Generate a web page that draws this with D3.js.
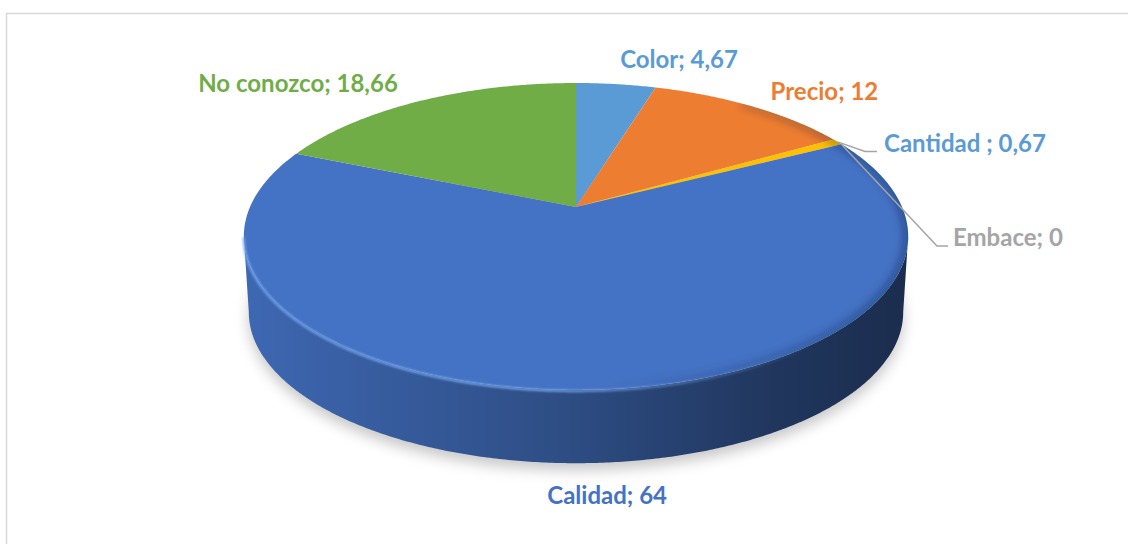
<!DOCTYPE html>
<html>
<head>
<meta charset="utf-8">
<script src="https://cdn.jsdelivr.net/npm/d3@7/dist/d3.min.js"></script>
<style>
  html, body { margin: 0; padding: 0; background: #ffffff; }
  svg { display: block; }
</style>
</head>
<body>
<svg id="chart" width="1128" height="544"></svg>
<script>
// ---- data ----
const categories  = ["Color", "Precio", "Cantidad ", "Embace", "Calidad", "No conozco"];
const values      = [4.67, 12, 0.67, 0, 64, 18.66];
const sliceColors = ["#5B9BD5", "#ED7D31", "#FFC000", "#A5A5A5", "#4472C4", "#70AD47"];
const labelColors = ["#5B9BD5", "#ED7D31", "#5B9BD5", "#A5A5A5", "#4472C4", "#70AD47"];

// ---- layout ----
const W = 1128, H = 544;
const pie3d = { cx: 576, cy: 207, rx: 326, ry: 147.8, k: 0.192, depth: 76, baseScale: 0.985 };
// label placement relative to each slice's outer anchor point
const labelOffsets = [[63, -16], [72.4, -6.3], [46.5, 10], [111.6, 101.8], [14.7, 41.3], [-122.5, -8.9]];
const labelAnchors = ["middle", "middle", "start", "start", "middle", "middle"];
const leaderBends  = [null, null, [[27.5, 9.6], [39.5, 9.6]], [[95.6, 101.8], [106.6, 101.8]], null, null];
const labelFont = "Lato, 'Open Sans', sans-serif";
const labelSize = 24;

const svg = d3.select("#chart");
const defs = svg.append("defs");

// chart frame
svg.append("rect")
  .attr("x", 6.5).attr("y", 13.5).attr("width", W + 20).attr("height", H + 20)
  .attr("fill", "none").attr("stroke", "#d9d9d9").attr("stroke-width", 1.5);

// perspective projection of a point on the disc: angle clockwise from 12 o'clock,
// r = fraction of radius, z = 0 for the top face, 1 for the base
function proj(a, r = 1, z = 0) {
  const u = r * Math.sin(a), v = r * Math.cos(a);
  const d = 1 + pie3d.k * v;
  const s = z ? pie3d.baseScale : 1;
  return [pie3d.cx + s * pie3d.rx * u / d, pie3d.cy + z * pie3d.depth - s * pie3d.ry * v / d];
}
function arcPts(a0, a1, z) {
  const n = Math.max(2, Math.ceil(Math.abs(a1 - a0) / 0.008));
  return d3.range(n + 1).map(i => proj(a0 + (a1 - a0) * i / n, 1, z));
}
const line = d3.line();

const arcs = d3.pie().sort(null).value(d => d).startAngle(0).endAngle(2 * Math.PI)(values);

// silhouette tangents of the cylinder wall
const aRight = Math.acos(-pie3d.k);
const aLeft = 2 * Math.PI - aRight;

// filters
const blurShadow = defs.append("filter").attr("id", "shadowBlur")
  .attr("x", "-20%").attr("y", "-20%").attr("width", "140%").attr("height", "160%");
blurShadow.append("feGaussianBlur").attr("stdDeviation", 7);
const blurSoft = defs.append("filter").attr("id", "softBlur")
  .attr("x", "-10%").attr("y", "-10%").attr("width", "120%").attr("height", "120%");
blurSoft.append("feGaussianBlur").attr("stdDeviation", 1.2);
const blurEdge = defs.append("filter").attr("id", "edgeBlur")
  .attr("x", "-10%").attr("y", "-10%").attr("width", "120%").attr("height", "120%");
blurEdge.append("feGaussianBlur").attr("stdDeviation", 4);

// ground shadow under the base
const base = arcPts(0, 2 * Math.PI, 1);
svg.append("path")
  .attr("d", line(base) + "Z")
  .attr("transform", "translate(0,7)")
  .attr("fill", "#000").attr("fill-opacity", 0.22)
  .attr("filter", "url(#shadowBlur)");

const xLeft = proj(aLeft)[0], xRight = proj(aRight)[0];

// side walls (only the part facing the viewer)
arcs.forEach((a, i) => {
  const a0 = Math.max(a.startAngle, aRight), a1 = Math.min(a.endAngle, aLeft);
  if (a1 <= a0) return;
  const c = d3.color(sliceColors[i]);
  const gid = "side" + i;
  const g = defs.append("linearGradient").attr("id", gid)
    .attr("gradientUnits", "userSpaceOnUse")
    .attr("x1", xLeft).attr("x2", xRight).attr("y1", 0).attr("y2", 0);
  [[0, 0.25], [0.12, 0.45], [0.5, 1.15], [0.8, 2.1], [1, 2.6]].forEach(([o, k]) =>
    g.append("stop").attr("offset", o).attr("stop-color", c.darker(k).formatHex()));
  const pts = arcPts(a0, a1, 0).concat(arcPts(a1, a0, 1));
  svg.append("path").attr("d", line(pts) + "Z").attr("fill", `url(#${gid})`);
});

// top face slices
const topG = svg.append("g");
arcs.forEach((a, i) => {
  if (a.endAngle - a.startAngle <= 0) return;
  const pts = [proj(0, 0)].concat(arcPts(a.startAngle, a.endAngle, 0));
  topG.append("path").attr("d", line(pts) + "Z").attr("fill", sliceColors[i]);
});

// bevel: dark shading on the right rim, light highlight on the front rim
const clip = defs.append("clipPath").attr("id", "topClip");
clip.append("path").attr("d", line(arcPts(0, 2 * Math.PI, 0)) + "Z");
const shadeG = defs.append("linearGradient").attr("id", "rimShade")
  .attr("gradientUnits", "userSpaceOnUse")
  .attr("x1", xLeft).attr("x2", xRight).attr("y1", 0).attr("y2", 0);
[[0, 0], [0.55, 0], [0.85, 0.3], [1, 0.45]].forEach(([o, op]) =>
  shadeG.append("stop").attr("offset", o).attr("stop-color", "#0e1c3a").attr("stop-opacity", op));
svg.append("path")
  .attr("d", line(arcPts(Math.PI * 0.2, Math.PI * 1.6, 0)))
  .attr("fill", "none").attr("stroke", "url(#rimShade)").attr("stroke-width", 8)
  .attr("clip-path", "url(#topClip)")
  .attr("filter", "url(#edgeBlur)");

const hiG = defs.append("linearGradient").attr("id", "rimHi")
  .attr("gradientUnits", "userSpaceOnUse")
  .attr("x1", xLeft).attr("x2", xRight).attr("y1", 0).attr("y2", 0);
[[0, 0.85], [0.45, 0.9], [0.7, 0.35], [0.85, 0]].forEach(([o, op]) =>
  hiG.append("stop").attr("offset", o).attr("stop-color", "#78a8f0").attr("stop-opacity", op));
svg.append("path")
  .attr("d", line(arcPts(aRight, aLeft, 0)))
  .attr("fill", "none").attr("stroke", "url(#rimHi)").attr("stroke-width", 2.5)
  .attr("transform", "translate(0,1)")
  .attr("filter", "url(#softBlur)");

// data labels with leader lines
const fmt = v => String(v).replace(".", ",");
arcs.forEach((a, i) => {
  const mid = (a.startAngle + a.endAngle) / 2;
  const front = Math.cos(mid) < -pie3d.k;
  const [ax, ay] = proj(mid, 1, front ? 1 : 0);
  if (leaderBends[i]) {
    const pts = [[ax, ay]].concat(leaderBends[i].map(([dx, dy]) => [ax + dx, ay + dy]));
    svg.append("path").attr("d", line(pts))
      .attr("fill", "none").attr("stroke", "#a5a5a5").attr("stroke-width", 1.5);
  }
  const [dx, dy] = labelOffsets[i];
  svg.append("text")
    .attr("x", ax + dx).attr("y", ay + dy)
    .attr("text-anchor", labelAnchors[i])
    .attr("font-family", labelFont).attr("font-weight", 700)
    .attr("font-size", labelSize)
    .attr("fill", labelColors[i])
    .text(`${categories[i]}; ${fmt(values[i])}`);
});
</script>
</body>
</html>
